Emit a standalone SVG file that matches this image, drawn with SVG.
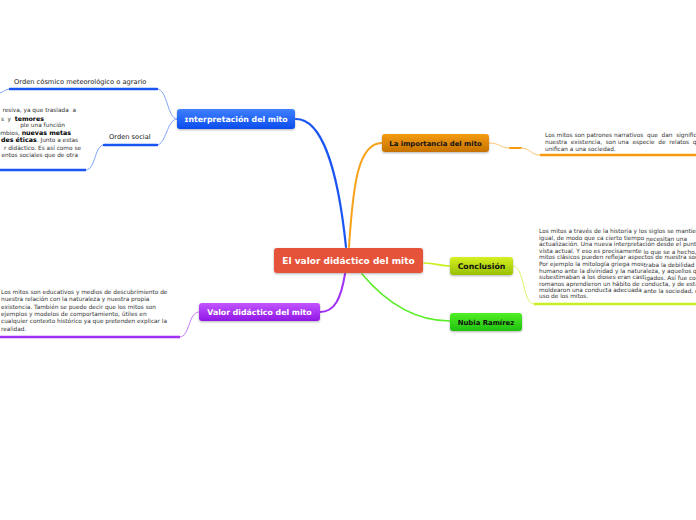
<svg xmlns="http://www.w3.org/2000/svg" width="696" height="520" viewBox="0 0 696 520">
<defs>
<linearGradient id="gBlue" x1="0" y1="0" x2="0" y2="1"><stop offset="0" stop-color="#3f80ff"/><stop offset="1" stop-color="#0b4ced"/></linearGradient>
<linearGradient id="gOrange" x1="0" y1="0" x2="0" y2="1"><stop offset="0" stop-color="#f59c12"/><stop offset="1" stop-color="#c67200"/></linearGradient>
<linearGradient id="gYellow" x1="0" y1="0" x2="0" y2="1"><stop offset="0" stop-color="#d6f024"/><stop offset="1" stop-color="#98c000"/></linearGradient>
<linearGradient id="gGreen" x1="0" y1="0" x2="0" y2="1"><stop offset="0" stop-color="#50f024"/><stop offset="1" stop-color="#20c010"/></linearGradient>
<linearGradient id="gPurple" x1="0" y1="0" x2="0" y2="1"><stop offset="0" stop-color="#c254ff"/><stop offset="1" stop-color="#9018e6"/></linearGradient>
<filter id="sh" x="-10%" y="-20%" width="120%" height="160%"><feDropShadow dx="0" dy="1" stdDeviation="0.8" flood-color="#000" flood-opacity="0.3"/></filter>
</defs>
<style>
.lbl{font-family:"DejaVu Sans",Verdana,sans-serif;font-weight:bold;font-size:7.8px;text-anchor:middle}
.w{fill:#fff}
.k{fill:#111}
.body{font-family:"DejaVu Sans",Verdana,sans-serif;font-size:5.8px;fill:#333;white-space:pre}
.sub{font-family:"DejaVu Sans",Verdana,sans-serif;font-size:6.7px;fill:#222}
.b{font-weight:bold;font-size:6.3px;fill:#000}
.c{fill:none;stroke-linecap:round}
</style>
<rect width="696" height="520" fill="#fff"/>
<g id="connectors">
  <path class="c" d="M346,247 C338,170 322,119 296,119" stroke="#1a55f2" stroke-width="2.2"/>
  <path class="c" d="M349,247 C353,185 358,143 382,143" stroke="#f8a21c" stroke-width="2"/>
  <path class="c" d="M345,274 C341,298 335,312 320,312" stroke="#a030f2" stroke-width="2"/>
  <path class="c" d="M362,274 C388,305 418,321 450,321" stroke="#5aee28" stroke-width="1.6"/>
  <path class="c" d="M424,263 C436,263 440,266 450,266" stroke="#c8f020" stroke-width="1.6"/>
  <path class="c" d="M177,119 C167,119 168,89 157,89" stroke="#7fa4fa" stroke-width="1"/>
  <path class="c" d="M177,119 C167,119 166,145 157,145" stroke="#7fa4fa" stroke-width="1"/>
  <path class="c" d="M104,145 C94,145 96,170 86,170" stroke="#7fa4fa" stroke-width="1"/>
  <path class="c" d="M0,93 C4,92 5,89 10,89" stroke="#7fa4fa" stroke-width="1"/>
  <path class="c" d="M10,89 H157" stroke="#1a55f2" stroke-width="2.5"/>
  <path class="c" d="M104,145 H157" stroke="#1a55f2" stroke-width="2.5"/>
  <path d="M0,170 H86" stroke="#1a55f2" stroke-width="2.5"/>
  <path class="c" d="M489,143 C500,143 500,148 509,148" stroke="#fbc46a" stroke-width="1"/>
  <path class="c" d="M510,148 H521" stroke="#f89a10" stroke-width="2"/>
  <path class="c" d="M521,148 C531,148 530,155 540,155" stroke="#fbc46a" stroke-width="1"/>
  <path d="M540,155 H696" stroke="#f89a10" stroke-width="2.5"/>
  <path class="c" d="M513,266 C525,266 522,304 534,304" stroke="#dcf56a" stroke-width="1"/>
  <path d="M534,304 H696" stroke="#c8f020" stroke-width="2.5"/>
  <path class="c" d="M180,337 C190,337 188,312 199,312" stroke="#c47af8" stroke-width="1"/>
  <path d="M0,337 H180" stroke="#a030f2" stroke-width="2.5"/>
</g>
<g id="central">
  <rect x="274" y="248" width="149" height="25" rx="3" fill="#e6533a" filter="url(#sh)"/>
  <text class="lbl w" x="348.5" y="264" style="font-size:9px">El valor didáctico del mito</text>
</g>
<g id="interpretacion">
  <rect x="177" y="109" width="118" height="20" rx="3" fill="url(#gBlue)" filter="url(#sh)"/>
  <text class="lbl w" x="236" y="122">ɪnterpretación del mito</text>
</g>
<g id="importancia">
  <rect x="382" y="134" width="107" height="18" rx="3" fill="url(#gOrange)" filter="url(#sh)"/>
  <text class="lbl k" x="435.5" y="146" style="font-size:6.9px">La importancia del mito</text>
</g>
<g id="conclusion">
  <rect x="450" y="257" width="63" height="18" rx="3" fill="url(#gYellow)" filter="url(#sh)"/>
  <text class="lbl k" x="481.5" y="269">Conclusión</text>
</g>
<g id="nubia">
  <rect x="450" y="313" width="72" height="18" rx="3" fill="url(#gGreen)" filter="url(#sh)"/>
  <text class="lbl k" x="486" y="325" style="font-size:6.9px">Nubia Ramírez</text>
</g>
<g id="valor">
  <rect x="199" y="303" width="121" height="18" rx="3" fill="url(#gPurple)" filter="url(#sh)"/>
  <text class="lbl w" x="259.5" y="315">Valor didáctico del mito</text>
</g>
<g id="orden-cosmico">
  <text class="sub" x="14" y="83.5">Orden cósmico meteorológico o agrario</text>
</g>
<g id="orden-social">
  <text class="sub" x="109" y="138.5">Orden social</text>
</g>
<g id="orden-social-texto">
  <text class="body" text-anchor="end" x="76" y="112">resiva, ya que traslada  a</text>
  <text class="body" text-anchor="end" x="44" y="120.5">s  y  <tspan class="b">temores</tspan></text>
  <text class="body" text-anchor="end" x="65" y="127">ple una función</text>
  <text class="body" text-anchor="end" x="71" y="135">ambios, <tspan class="b">nuevas metas</tspan></text>
  <text class="body" text-anchor="end" x="78" y="142"><tspan class="b">des éticas</tspan>. Junto a estas</text>
  <text class="body" text-anchor="end" x="81" y="149.5">r didáctico. Es así como se</text>
  <text class="body" text-anchor="end" x="78" y="157">entos sociales que de otra</text>
</g>
<g id="valor-texto">
  <text class="body" x="1" y="294">Los mitos son educativos y medios de descubrimiento de</text>
  <text class="body" x="1" y="301.3">nuestra relación con la naturaleza y nuestra propia</text>
  <text class="body" x="1" y="308.6">existencia. También se puede decir que los mitos son</text>
  <text class="body" x="1" y="315.9">ejemplos y modelos de comportamiento, útiles en</text>
  <text class="body" x="1" y="323.2">cualquier contexto histórico ya que pretenden explicar la</text>
  <text class="body" x="1" y="330.5">realidad.</text>
</g>
<g id="importancia-texto">
  <text class="body" x="545" y="137">Los mitos son patrones narrativos  que  dan  significado a</text>
  <text class="body" x="545" y="144">nuestra  existencia,  son una  especie  de  relatos  que</text>
  <text class="body" x="545" y="150.5">unifican a una sociedad.</text>
</g>
<g id="conclusion-texto">
  <text class="body" x="539" y="233">Los mitos a través de la historia y los siglos se mantienen</text>
  <text class="body" x="539" y="239.6">igual, de modo que ca cierto tiempo <tspan dy="1.5">necesitan una</tspan></text>
  <text class="body" x="539" y="246.2">actualización. Una nueva interpretación desde el punto de</text>
  <text class="body" x="539" y="252.8">vista actual. Y eso es precisamente <tspan dy="1.5">lo que se a hecho, que</tspan></text>
  <text class="body" x="539" y="259.4">mitos clásicos pueden reflejar aspectos de nuestra sociedad</text>
  <text class="body" x="539" y="266">Por ejemplo la mitología griega mos<tspan dy="1">traba la debilidad del</tspan></text>
  <text class="body" x="539" y="272.6">humano ante la divinidad y la naturaleza, y aquellos que</text>
  <text class="body" x="539" y="279.2">subestimaban a los dioses eran cast<tspan dy="1">igados. Así fue como</tspan></text>
  <text class="body" x="539" y="285.8">romanos aprendieron un hábito de conducta, y de esta m</text>
  <text class="body" x="539" y="291.5">moldearon una conducta adecuada <tspan dy="1">ante la sociedad, con</tspan></text>
  <text class="body" x="539" y="297.5">uso de los mitos.</text>
</g>
</svg>
